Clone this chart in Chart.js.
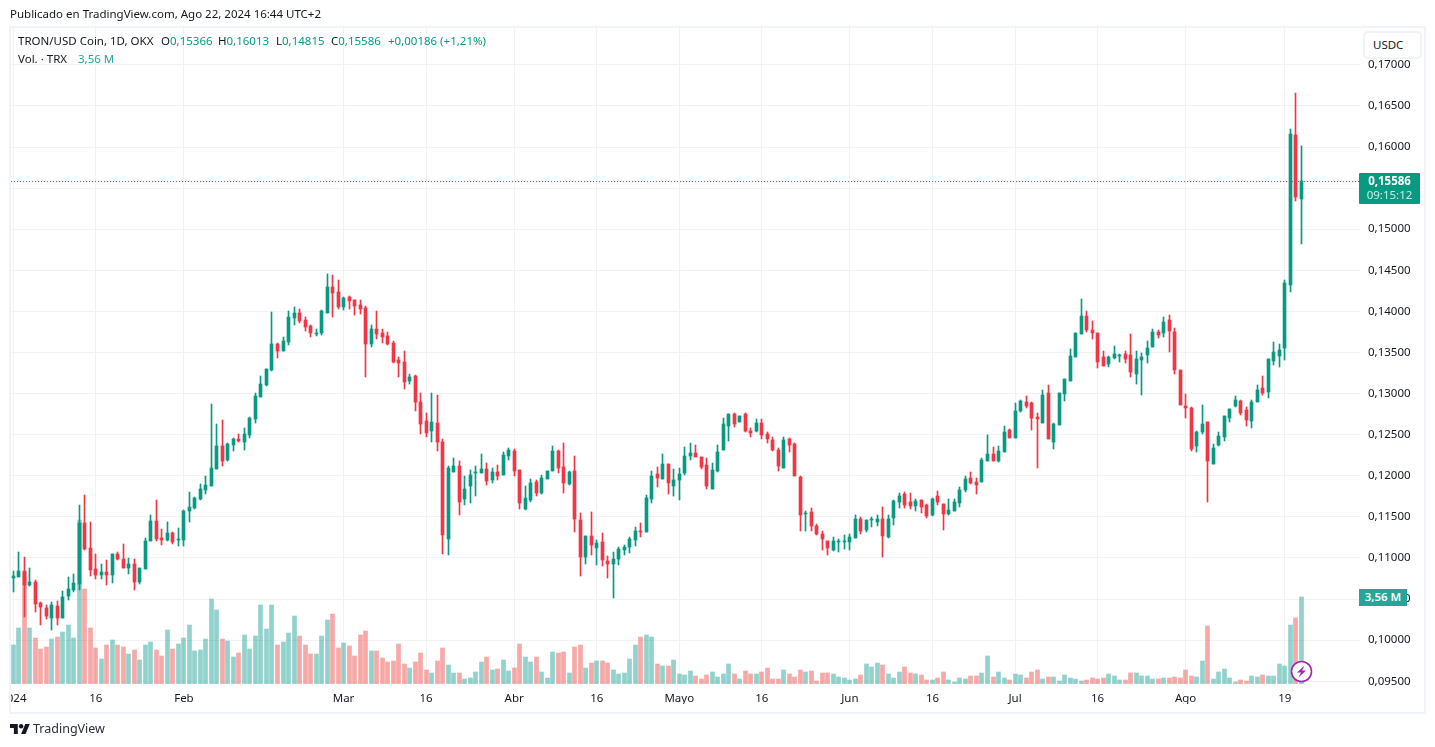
<!DOCTYPE html>
<html lang="es">
<head>
<meta charset="utf-8">
<title>TRON/USD Coin</title>
<script src="https://cdn.jsdelivr.net/npm/chart.js@4"></script>
<style>
html, body { margin: 0; padding: 0; background: #fff; }
body { width: 1435px; height: 747px; overflow: hidden; position: relative; font-family: "Noto Sans", sans-serif; font-size: 11.5px; color: #131722; }
#frame { position: absolute; left: 9px; top: 26px; width: 1413px; height: 684px; border: 2px solid #f0f3fa; }
#chart { position: absolute; left: 11px; top: 0; }
.txt { position: absolute; white-space: nowrap; line-height: 16px; }
.up { color: #089981; }
#usdc { position: absolute; left: 1363px; top: 31px; width: 47px; height: 24px; padding-left: 8px; border: 2px solid #f0f3fa; border-radius: 5px; background: #fff; line-height: 24px; }
#priceTag { position: absolute; left: 1359px; top: 173px; width: 61px; height: 31px; background: #089981; color: #fff; text-align: center; line-height: 14px; border-radius: 1px; }
#volTag { position: absolute; left: 1359px; top: 589px; width: 48px; height: 17px; background: #26a69a; color: #fff; text-align: center; line-height: 16px; font-weight: 600; }
#bolt { position: absolute; left: 1290px; top: 660px; }
#logo { position: absolute; left: 10px; top: 724px; }
</style>
</head>
<body>
<div id="frame"></div>
<canvas id="chart" width="1424" height="747"></canvas>

<div class="txt" style="left:10px;top:6px">Publicado en TradingView.com, Ago 22, 2024 16:44 UTC+2</div>
<div class="txt" style="left:18px;top:33px">TRON/USD Coin, 1D, OKX</div>
<div class="txt" style="left:161px;top:33px">O<span class="up">0,15366</span></div>
<div class="txt" style="left:218px;top:33px">H<span class="up">0,16013</span></div>
<div class="txt" style="left:276px;top:33px">L<span class="up">0,14815</span></div>
<div class="txt" style="left:331px;top:33px">C<span class="up">0,15586</span></div>
<div class="txt up" style="left:388px;top:33px">+0,00186 (+1,21%)</div>
<div class="txt" style="left:18px;top:51px">Vol. · TRX</div>
<div class="txt" style="left:78px;top:51px;color:#26a69a">3,56 M</div>

<div id="usdc">USDC</div>
<div id="priceTag"><div style="font-weight:700;margin-top:1px">0,15586</div><div style="opacity:.8">09:15:12</div></div>
<div id="volTag">3,56 M</div>

<svg id="bolt" width="23" height="23" viewBox="0 0 23 23">
  <circle cx="11.5" cy="11.5" r="10" fill="#fff" stroke="#9c27b0" stroke-width="1.6"/>
  <path d="M14.5 5.5 L7 12.5 L11 12.5 L8.5 17.5 L16 10.5 L12 10.5 Z" fill="#9c27b0"/>
</svg>
<svg id="logo" width="20" height="10" viewBox="0 4 36 18">
  <path d="M14 22H7V11H0V4h14v18zM28 22h-8l7.5-18h8L28 22z" fill="#131722"/><circle cx="20" cy="8" r="4" fill="#131722"/>
</svg>
<div class="txt" style="left:33px;top:721px;font-size:12.5px;color:#2a2e39">TradingView</div>

<script>
// day 0 = 1 Jan 2024, one value per daily candle
var opens = [
  .1076,.10772,.10845,.10675,.10711,.10447,.1039,.10276,.10418,.10276,
  .10541,.10614,.10687,.1143,.11125,.10869,.10796,.10833,.10796,.11052,
  .10991,.10882,.1093,.10711,.10869,.1121,.11454,.11247,.11223,.11308,
  .11223,.11223,.11568,.11613,.11723,.11832,.11881,.12087,.12367,.12196,
  .12379,.12452,.12416,.12497,.12692,.1296,.13106,.13289,.13606,.1352,
  .1363,.13922,.13983,.13897,.13824,.13727,.13739,.1398,.14297,.14236,
  .14053,.14175,.14139,.14078,.14041,.13603,.13785,.13737,.137,.13615,
  .13408,.13384,.13152,.13213,.12896,.12672,.1255,.12648,.12416,.11235,
  .12051,.12124,.11722,.1188,.12039,.12039,.12087,.11953,.12051,.12014,
  .12246,.12307,.12075,.116,.1171,.11929,.11795,.11966,.12063,.12307,
  .12112,.11905,.12063,.11466,.11016,.11271,.11125,.11198,.10967,.1093,
  .10991,.11101,.11137,.11223,.11332,.1132,.11722,.12027,.11966,.12148,
  .1188,.11953,.12039,.12246,.12282,.12234,.12136,.11844,.12063,.12319,
  .12611,.12757,.1266,.12757,.1255,.1255,.12648,.12514,.12441,.12319,
  .121,.12453,.12392,.1199,.11539,.11564,.11393,.11296,.1121,.11101,
  .11198,.11198,.11198,.11247,.11478,.11345,.11466,.11442,.11478,.11259,
  .1149,.11686,.11783,.11686,.11637,.1171,.11649,.11527,.11759,.11654,
  .11532,.11569,.11666,.11825,.11971,.11922,.11922,.12178,.12263,.12178,
  .12288,.12556,.12458,.12787,.12897,.12884,.12714,.12641,.13006,.12409,
  .12617,.12994,.13152,.13445,.13725,.13944,.13774,.13737,.13445,.1336,
  .13433,.13457,.13481,.13469,.13238,.13408,.13469,.13566,.13749,.13737,
  .13894,.13748,.13285,.12846,.12821,.12358,.12528,.1265,.12138,.1237,
  .12467,.12699,.12845,.12906,.12797,.12663,.12894,.13065,.13016,.13394,
  .13455,.13553,.14321,.1615,.15366
];
var highs = [
  .10845,.11077,.11016,.10882,.10735,.1047,.1043,.10459,.10479,.10601,
  .10772,.10809,.11649,.11771,.11442,.11052,.10931,.10979,.11052,.11077,
  .11174,.11003,.10991,.10882,.11247,.11527,.11711,.11357,.11442,.1132,
  .11369,.11588,.11808,.11747,.11905,.12002,.12879,.12635,.12684,.12403,
  .12464,.12513,.12586,.12716,.13008,.13216,.13301,.13996,.13618,.1369,
  .14007,.14056,.14032,.13934,.13836,.13788,.14017,.14456,.14443,.14382,
  .14175,.14187,.14139,.14139,.14066,.13834,.14,.13785,.13749,.13639,
  .13444,.13518,.13238,.13225,.13006,.1277,.13006,.12977,.12453,.12124,
  .12221,.12185,.12002,.12075,.12124,.1227,.12161,.121,.12136,.12295,
  .12343,.12331,.12075,.1188,.11966,.11953,.12014,.12063,.12368,.12319,
  .12404,.12063,.12246,.11552,.11271,.11564,.11223,.11308,.11028,.11077,
  .11137,.11162,.11259,.11381,.1143,.11771,.12063,.12112,.1227,.12148,
  .12087,.121,.12355,.12404,.1238,.12234,.12221,.12161,.1238,.12709,
  .12757,.12769,.12733,.12769,.12587,.12696,.12696,.12538,.12477,.12343,
  .12477,.12465,.12404,.12002,.11576,.11612,.11417,.11332,.1121,.11259,
  .11235,.11283,.11296,.11527,.11503,.11466,.11503,.11527,.11625,.11527,
  .1171,.11795,.11807,.11795,.11722,.1171,.11661,.11734,.11813,.11654,
  .11715,.11715,.11861,.11995,.12044,.11971,.12215,.12495,.12349,.12361,
  .12604,.12568,.12884,.12921,.1297,.12897,.12763,.13043,.13104,.12641,
  .13006,.13177,.13542,.13737,.14151,.14005,.13883,.13737,.13518,.13457,
  .13579,.13481,.13518,.13725,.13518,.13493,.1364,.13786,.13774,.13931,
  .13955,.13797,.13285,.12992,.12833,.12541,.12858,.1265,.12382,.12528,
  .12724,.12809,.12967,.12919,.12833,.12919,.13102,.13211,.13419,.13626,
  .13602,.14382,.16224,.16663,.16013
];
var lows = [
  .10581,.10776,.10288,.10654,.10349,.10187,.1026,.10126,.10179,.10276,
  .10484,.10589,.10614,.111,.10784,.10748,.10748,.10675,.10699,.10979,
  .10882,.10809,.10614,.10687,.10869,.1121,.1121,.11162,.1121,.11174,
  .1115,.1115,.11442,.11601,.11711,.11784,.11881,.12087,.12123,.12184,
  .12306,.12416,.12318,.1246,.12643,.1296,.13094,.13277,.13435,.1352,
  .13593,.13837,.13861,.13763,.1369,.13702,.13715,.1398,.13931,.14029,
  .14017,.14029,.13956,.13968,.13201,.13566,.13664,.13615,.13591,.13371,
  .13201,.13055,.13116,.12787,.12506,.12477,.1241,.12306,.11052,.1104,
  .12051,.11527,.11649,.11673,.11759,.12039,.11893,.11917,.11953,.12014,
  .12197,.12002,.116,.11588,.11686,.11759,.11783,.11966,.12063,.12039,
  .11795,.11893,.1132,.10784,.1093,.1104,.10918,.10906,.1076,.10516,
  .10918,.1104,.11064,.1115,.11259,.1132,.11673,.11868,.11966,.11783,
  .11759,.1171,.12014,.12197,.12234,.12087,.11844,.11844,.12051,.12319,
  .12429,.12599,.1266,.12538,.12477,.12538,.12453,.12404,.12307,.12063,
  .121,.12295,.12002,.11332,.11332,.11332,.11284,.11101,.1104,.11089,
  .11077,.11113,.11101,.11247,.11296,.1132,.11381,.11393,.11016,.11247,
  .11405,.11612,.11612,.116,.11576,.11552,.1149,.11515,.11649,.11338,
  .1152,.11569,.11618,.118,.11898,.11776,.11922,.12178,.12178,.12166,
  .12288,.12458,.12458,.12775,.12824,.12556,.12093,.12641,.12446,.12324,
  .12617,.12909,.13152,.13445,.13725,.13749,.13664,.13311,.13335,.13323,
  .1342,.13384,.13372,.13201,.13116,.12982,.13372,.13566,.13676,.13687,
  .13504,.13236,.12858,.12699,.12297,.12285,.12504,.11687,.12138,.12358,
  .12419,.1265,.12833,.12736,.12602,.12577,.12894,.1298,.12943,.13346,
  .13321,.13407,.14236,.15346,.14815
];
var closes = [
  .10784,.10845,.10675,.10711,.10443,.10402,.10289,.1043,.10276,.10528,
  .10626,.10699,.1143,.11113,.10857,.10796,.10833,.10796,.11052,.10991,
  .10882,.1093,.10711,.10882,.1121,.11454,.11235,.11223,.11308,.11199,
  .11235,.11576,.11625,.11735,.11844,.11893,.12099,.12367,.12184,.12391,
  .12452,.12428,.12513,.12704,.12972,.13118,.13301,.13606,.1352,.13642,
  .13934,.13983,.13885,.13812,.13739,.13739,.14004,.14297,.14224,.14053,
  .14163,.14126,.14066,.14029,.13603,.13785,.13725,.13688,.13603,.13384,
  .13371,.1314,.13201,.12896,.12628,.12526,.1266,.12416,.11284,.121,
  .12124,.11686,.11844,.12014,.12051,.12087,.11941,.12051,.12002,.12258,
  .12319,.12063,.11673,.11734,.11917,.11795,.11978,.12063,.12307,.121,
  .11917,.12051,.11478,.11016,.11271,.11162,.11186,.10979,.1093,.10991,
  .11113,.11137,.11235,.11332,.1132,.11734,.12002,.11978,.12148,.11917,
  .11953,.12027,.12246,.12282,.12234,.12112,.1188,.12075,.12295,.12636,
  .12757,.12636,.12733,.1255,.12526,.12648,.12502,.12453,.12319,.12124,
  .12441,.1238,.12002,.11527,.11552,.11393,.11296,.11235,.11125,.1121,
  .1121,.1121,.11259,.11478,.11332,.11466,.11478,.11478,.11271,.11478,
  .11698,.11759,.11649,.11637,.11698,.11625,.11515,.11722,.11679,.11532,
  .11581,.11679,.11825,.11959,.1191,.11886,.1219,.12263,.12178,.123,
  .12531,.12458,.12787,.12909,.12848,.12702,.1269,.12982,.12446,.12629,
  .13006,.13177,.13457,.13737,.13944,.13774,.13737,.1339,.13335,.13445,
  .13481,.13469,.1342,.13262,.1342,.13445,.13554,.13749,.13713,.1387,
  .1376,.13285,.12858,.12821,.12321,.12528,.12626,.12175,.12333,.1248,
  .12724,.12809,.12919,.1276,.12675,.12894,.13041,.13004,.13419,.13504,
  .13528,.14346,.16163,.15394,.15586
];
// volume in millions of TRX
var volumes = [
  1.59,2.28,4.58,2.28,1.88,1.43,1.51,1.84,1.92,2.12,
  2.41,1.88,6.69,3.88,2.28,1.47,1.02,1.59,1.8,1.59,
  1.51,1.22,1.39,.98,1.59,1.71,1.39,1.14,2.2,1.43,
  1.63,1.88,2.41,1.35,1.39,1.84,3.47,3.02,1.84,1.75,
  1.1,1.26,2,1.43,1.96,3.22,2.24,3.22,1.59,1.71,
  2.08,2.77,1.96,1.59,1.22,1.22,1.96,2.61,2.86,1.47,
  1.67,1.55,1.14,2,2.16,1.35,1.35,1.06,.9,.94,
  1.63,.82,.65,.9,1.26,.57,.45,.94,1.47,.78,
  .45,.45,.2,.24,.49,.9,1.1,.57,.61,.98,
  .53,.65,1.63,1.1,.9,1.1,.49,.24,1.31,1.26,
  1.31,.45,1.51,1.59,.65,.86,.94,.94,.86,.57,
  .41,.45,1.02,1.59,1.92,2,1.92,.82,.73,.73,
  .98,.41,.37,.53,.33,.2,.37,.49,.29,.41,
  .82,.41,.2,.53,.41,.41,.49,.65,.2,.2,
  .57,.41,.29,.57,.49,.53,.12,.45,.45,.41,
  .29,.24,.16,.2,.37,.82,.69,.86,.78,.41,
  .24,.49,.69,.45,.41,.37,.16,.16,.24,.49,
  .16,.08,.24,.2,.33,.33,.45,1.14,.29,.49,
  .24,.16,.41,.37,.24,.49,.57,.2,.29,.29,
  .12,.37,.24,.2,.12,.16,.24,.2,.24,.41,
  .33,.16,.16,.45,.45,.33,.33,.2,.2,.24,
  .24,.29,.24,.57,.33,.29,.94,2.37,.2,.49,
  .61,.24,.08,.16,.12,.33,.29,.37,.33,.33,
  .82,.73,2.41,2.69,3.56
];
var tickDays = [0, 15, 31, 60, 75, 91, 106, 121, 136, 152, 167, 182, 197, 213, 231];
var tickLabels = ["2024", "16", "Feb", "Mar", "16", "Abr", "16", "Mayo", "16", "Jun", "16", "Jul", "16", "Ago", "19"];
var priceTicks = [.095, .1, .105, .11, .115, .12, .125, .13, .135, .14, .145, .15, .155, .16, .165, .17];

var upColor = "#089981";
var downColor = "#f23645";
var gridColor = "#f1f2f5";
var last = closes.length - 1;
var xMin = -0.42, xMax = 244.68;

function isUp(i) { return closes[i] >= opens[i]; }
function candleColors() { return opens.map(function(o, i) { return isUp(i) ? upColor : downColor; }); }

var wicks = highs.map(function(h, i) { return { x: i, y: [lows[i], h] }; });
var bodies = opens.map(function(o, i) { return { x: i, y: [o, closes[i]] }; });
var volBars = volumes.map(function(v, i) { return { x: i, y: v }; });

// snap marks to whole pixels, otherwise the 1px wicks and the dotted line come out blurred
var snapMarks = {
  id: "snapMarks",
  afterDatasetsUpdate: function(chart) {
    chart.getSortedVisibleDatasetMetas().forEach(function(meta) {
      meta.data.forEach(function(el) {
        if (meta.type === "line") {
          el.y = Math.floor(el.y) + 0.5;
          return;
        }
        el.x = Math.floor(el.x) + 0.5;
        el.y = Math.round(el.y);
        el.base = Math.round(el.base);
        if (el.y === el.base) el.base = el.y + 1;
      });
    });
  }
};

new Chart(document.getElementById("chart"), {
  type: "bar",
  plugins: [snapMarks],
  data: {
    datasets: [
      {
        label: "Vol",
        yAxisID: "vol",
        data: volBars,
        barThickness: 4,
        grouped: false,
        order: 3,
        backgroundColor: opens.map(function(o, i) { return isUp(i) ? "rgba(38,166,154,.5)" : "rgba(239,83,80,.5)"; })
      },
      {
        label: "Wick",
        yAxisID: "y",
        data: wicks,
        barThickness: 1,
        grouped: false,
        order: 2,
        backgroundColor: candleColors()
      },
      {
        label: "Body",
        yAxisID: "y",
        data: bodies,
        barThickness: 3,
        grouped: false,
        order: 1,
        backgroundColor: candleColors()
      },
      {
        type: "line",
        label: "Last",
        yAxisID: "y",
        data: [{ x: xMin, y: closes[last] }, { x: xMax, y: closes[last] }],
        borderColor: upColor,
        borderWidth: 1,
        borderDash: [1, 2],
        pointRadius: 0,
        order: 0
      }
    ]
  },
  options: {
    responsive: false,
    animation: false,
    events: [],
    layout: { padding: { top: 28, bottom: 43, left: 0, right: 0 } },
    plugins: { legend: { display: false }, tooltip: { enabled: false } },
    scales: {
      x: {
        type: "linear",
        min: xMin,
        max: xMax,
        offset: false,
        border: { display: false },
        grid: { color: gridColor, drawTicks: false, offset: false },
        ticks: {
          autoSkip: false,
          maxRotation: 0,
          padding: 8,
          color: "#131722",
          font: { family: "Noto Sans", size: 11.5 },
          callback: function(v) { return tickLabels[tickDays.indexOf(v)]; }
        },
        afterBuildTicks: function(s) { s.ticks = tickDays.map(function(d) { return { value: d }; }); },
        afterFit: function(s) { s.height = 20; s.paddingLeft = 0; s.paddingRight = 0; }
      },
      y: {
        position: "right",
        min: 0.09467,
        max: 0.17448,
        border: { display: false },
        grid: { color: gridColor, drawTicks: false },
        ticks: {
          padding: 8,
          color: "#131722",
          font: { family: "Noto Sans", size: 11.5 },
          callback: function(v) { return v.toFixed(5).replace(".", ","); }
        },
        afterBuildTicks: function(s) { s.ticks = priceTicks.map(function(p) { return { value: p }; }); },
        afterFit: function(s) { s.width = 75; s.paddingTop = 0; s.paddingBottom = 0; }
      },
      vol: {
        display: false,
        position: "left",
        min: 0,
        max: 26.77
      }
    }
  }
});
</script>
</body>
</html>
